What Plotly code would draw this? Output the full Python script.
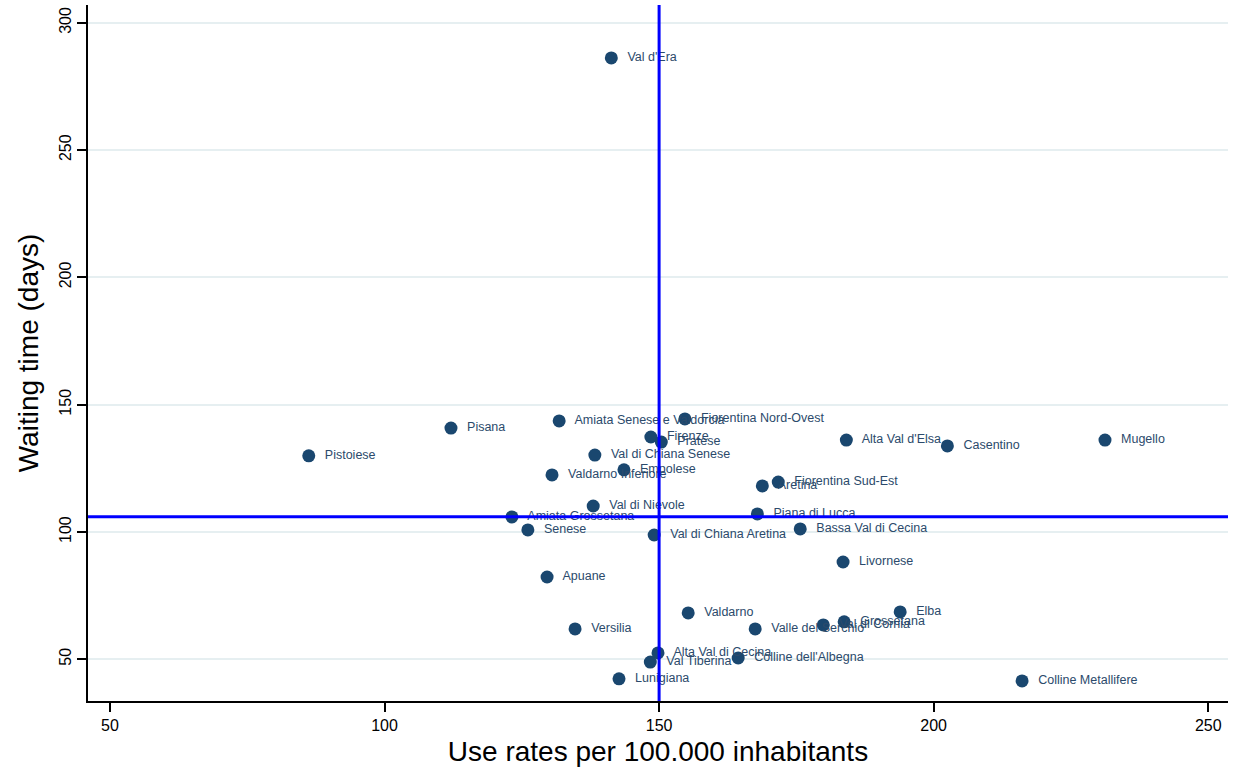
import plotly.graph_objects as go

zones = ["Val d'Era", "Amiata Senese e Valdorcia", "Fiorentina Nord-Ovest", "Pisana", "Pistoiese",
         "Firenze", "Pratese", "Alta Val d'Elsa", "Casentino", "Mugello",
         "Val di Chiana Senese", "Empolese", "Valdarno Inferiore", "Fiorentina Sud-Est", "Aretina",
         "Val di Nievole", "Piana di Lucca", "Amiata Grossetana", "Senese", "Bassa Val di Cecina",
         "Val di Chiana Aretina", "Livornese", "Apuane", "Valdarno", "Elba",
         "Grossetana", "Val di Cornia", "Valle del Serchio", "Versilia", "Alta Val di Cecina",
         "Val Tiberina", "Colline dell'Albegna", "Lunigiana", "Colline Metallifere"]
use_rates = [141.3, 131.8, 154.7, 112.1, 86.2,
             148.5, 150.4, 184.1, 202.5, 231.2,
             138.3, 143.6, 130.5, 171.7, 168.8,
             138.0, 167.9, 123.2, 126.1, 175.7,
             149.1, 183.5, 129.6, 155.3, 193.9,
             183.7, 179.9, 167.5, 134.7, 149.8,
             148.4, 164.4, 142.7, 216.1]
waiting_days = [286.2, 143.6, 144.4, 140.8, 129.9,
                137.3, 135.3, 136.1, 133.8, 136.1,
                130.2, 124.4, 122.4, 119.6, 118.1,
                110.2, 107.1, 105.9, 100.8, 101.2,
                98.8, 88.2, 82.3, 68.2, 68.6,
                64.7, 63.5, 61.9, 61.9, 52.5,
                48.9, 50.5, 42.3, 41.5]
mean_use_rate = 150.0
mean_waiting = 106.0

x_ticks = [50, 100, 150, 200, 250]
y_ticks = [50, 100, 150, 200, 250, 300]

fig = go.Figure()
fig.add_trace(go.Scatter(
    x=use_rates, y=waiting_days, mode="markers+text",
    text=["  " + z for z in zones], textposition="middle right",
    textfont=dict(family="Liberation Sans, Arial", size=12.5, color="#2b4a6b"),
    marker=dict(size=13, color="#1a476f", symbol="circle"),
    showlegend=False, cliponaxis=False))

fig.add_shape(type="line", xref="x", yref="paper", x0=mean_use_rate, x1=mean_use_rate, y0=0, y1=1,
              line=dict(color="#0000ff", width=3))
fig.add_shape(type="line", xref="paper", yref="y", x0=0, x1=1, y0=mean_waiting, y1=mean_waiting,
              line=dict(color="#0000ff", width=3))

tickfont = dict(family="Liberation Sans Narrow, Liberation Sans, Arial", size=16, color="#000000")
titlefont = dict(family="Liberation Sans Narrow, Liberation Sans, Arial", size=28, color="#000000")

fig.update_layout(
    width=1243, height=779,
    margin=dict(l=88, r=15, t=5, b=78),
    paper_bgcolor="white", plot_bgcolor="white",
    xaxis=dict(range=[46, 253.6], tickvals=x_ticks, showgrid=False, zeroline=False,
               showline=True, linecolor="black", linewidth=1.5, automargin=False,
               ticks="outside", ticklen=9, tickcolor="black", tickwidth=1.5,
               tickfont=tickfont,
               title=dict(text="Use rates per 100.000 inhabitants", font=titlefont, standoff=8)),
    yaxis=dict(range=[33.6, 307], tickvals=y_ticks, showgrid=True, gridcolor="#e6eff1", gridwidth=2,
               zeroline=False, showline=True, linecolor="black", linewidth=1.5, automargin=False,
               ticks="outside", ticklen=9, tickcolor="black", tickwidth=1.5,
               tickangle=-90, tickfont=tickfont,
               title=dict(text="Waiting time (days)", font=titlefont, standoff=10)),
)

fig.write_html("out.html", config={"displayModeBar": False},
               post_script="document.body.style.margin='0';")
